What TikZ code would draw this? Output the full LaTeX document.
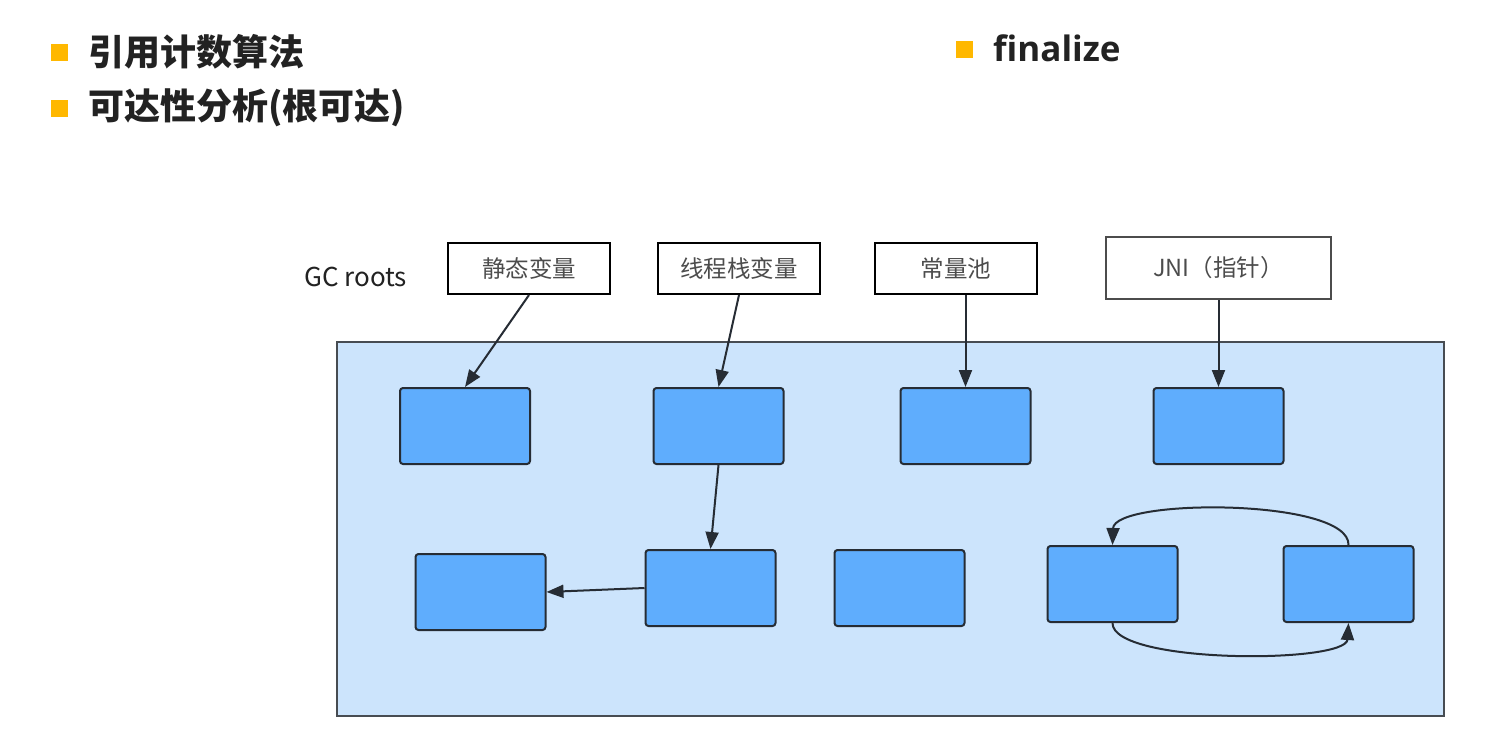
\documentclass[tikz,border=0pt]{standalone}
\usepackage{fontspec}
\setmainfont{Noto Sans CJK SC}
\newfontfamily\latinb{Open Sans}
\usetikzlibrary{arrows.meta}
\definecolor{bullet}{HTML}{FFB800}
\definecolor{bgblue}{HTML}{CCE4FC}
\definecolor{boxblue}{HTML}{5FADFD}
\definecolor{edge}{HTML}{262C34}
\definecolor{txt}{HTML}{222222}
\begin{document}
\begin{tikzpicture}[x=1pt,y=-1pt,
  bsq/.style={fill=bullet,draw=none,minimum size=17pt,inner sep=0pt},
  head/.style={anchor=west,inner sep=0pt,text=txt,font=\fontsize{36}{40}\selectfont\bfseries},
  rootbox/.style={draw=black,line width=2pt,fill=white,minimum width=162pt,minimum height=51pt,inner sep=0pt,text=black!70,font=\fontsize{23.5}{26}\selectfont},
  obj/.style={draw=edge,line width=2pt,fill=boxblue,rounded corners=3pt,minimum width=130pt,minimum height=76pt,inner sep=0pt},
  arr/.style={draw=edge,line width=2pt,-{Triangle[length=17pt,width=13pt]}}
]
\useasboundingbox (0,0) rectangle (1507,734);
\fill[white] (0,0) rectangle (1507,734);
% bullets and headings
\node[bsq] (q1) at (59,52) {};
\node[head] (h1) at (88,52) {引用计数算法};
\node[bsq] (q2) at (59,108) {};
\node[head] (h2) at (88,108) {可达性分析(根可达)};
\node[bsq] (q3) at (964,49) {};
\node[head,font=\fontsize{35}{40}\selectfont\latinb\bfseries] (h3) at (993,48) {finalize};
% GC roots
\node[anchor=west,inner sep=0pt,text=txt,font=\fontsize{26}{30}\selectfont] (gc) at (304,277) {GC roots};
\node[rootbox] (s1) at (529,268.5) {静态变量};
\node[rootbox] (s2) at (739,268.5) {线程栈变量};
\node[rootbox] (s3) at (956,268.5) {常量池};
\node[rootbox,draw=black!70,line width=2.6pt,minimum width=225pt,minimum height=62pt] (s4) at (1218.5,268) {JNI（指针）};
% heap area
\node[draw=edge!85,line width=2pt,fill=bgblue,minimum width=1107pt,minimum height=374pt,inner sep=0pt] (heap) at (890.5,529) {};
% objects
\node[obj] (b11) at (465,426) {};
\node[obj] (b12) at (718.5,426) {};
\node[obj] (b13) at (965.5,426) {};
\node[obj] (b14) at (1218.5,426) {};
\node[obj] (b21) at (480.5,592) {};
\node[obj] (b22) at (710.5,588) {};
\node[obj] (b23) at (899.5,588) {};
\node[obj] (b24) at (1112.5,584) {};
\node[obj] (b25) at (1348.5,584) {};
% connectors
\draw[arr] (s1.south) -- (b11.north);
\draw[arr] (s2.south) -- (b12.north);
\draw[arr] (b13.north |- s3.south) -- (b13.north);
\draw[arr] (s4.south) -- (b14.north);
\draw[arr] (b12.south) -- (b22.north);
\draw[arr] (b22.west) -- (b21.east);
\draw[arr] (b25.north) .. controls (1350,498) and (1114,498) .. (b24.north);
\draw[arr] (b24.south) .. controls (1112,664) and (1346,664) .. (b25.south);
\end{tikzpicture}
\end{document}
